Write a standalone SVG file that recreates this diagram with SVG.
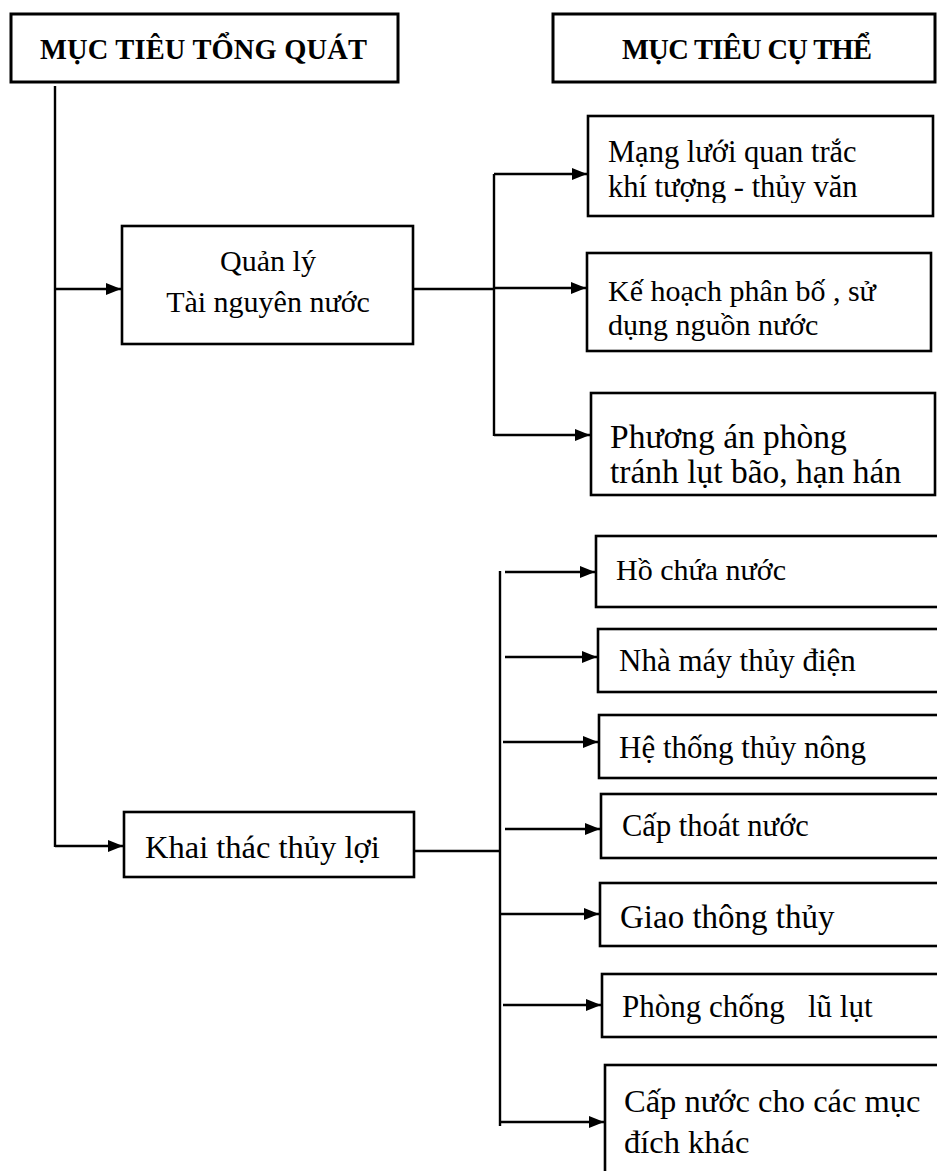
<svg xmlns="http://www.w3.org/2000/svg" width="937" height="1171" viewBox="0 0 937 1171">
<defs>
<style>
.box{fill:#fff;stroke:#000;stroke-width:2.6}
.hdr{fill:#fff;stroke:#000;stroke-width:3}
.t{font-family:"Liberation Serif","Times New Roman",serif;fill:#000}
.b{font-weight:bold;font-size:28.5px}
.ln{fill:none;stroke:#000;stroke-width:2.4}
</style>
<marker id="ah" markerUnits="userSpaceOnUse" markerWidth="16" markerHeight="14" viewBox="0 0 16 14" refX="15" refY="7" orient="auto">
<path d="M0,1 L15,7 L0,13 Z" fill="#000"/>
</marker>
<clipPath id="c1"><rect x="590" y="170" width="340" height="33"/></clipPath>
<clipPath id="c2"><rect x="590" y="310" width="340" height="31"/></clipPath>
</defs>

<g id="connectors">
<line class="ln" x1="55" y1="86" x2="55" y2="847"/>
<line class="ln" x1="55" y1="289" x2="121" y2="289" marker-end="url(#ah)"/>
<line class="ln" x1="55" y1="846" x2="123" y2="846" marker-end="url(#ah)"/>
<line class="ln" x1="413" y1="289" x2="494" y2="289"/>
<line class="ln" x1="494" y1="174" x2="494" y2="436"/>
<line class="ln" x1="494" y1="174" x2="587" y2="174" marker-end="url(#ah)"/>
<line class="ln" x1="494" y1="288" x2="586" y2="288" marker-end="url(#ah)"/>
<line class="ln" x1="494" y1="435" x2="590" y2="435" marker-end="url(#ah)"/>
<line class="ln" x1="414" y1="851" x2="500" y2="851"/>
<line class="ln" x1="500" y1="571" x2="500" y2="1126"/>
<line class="ln" x1="505" y1="572" x2="595" y2="572" marker-end="url(#ah)"/>
<line class="ln" x1="505" y1="657" x2="597" y2="657" marker-end="url(#ah)"/>
<line class="ln" x1="503" y1="742" x2="598" y2="742" marker-end="url(#ah)"/>
<line class="ln" x1="505" y1="829" x2="600" y2="829" marker-end="url(#ah)"/>
<line class="ln" x1="500" y1="914" x2="599" y2="914" marker-end="url(#ah)"/>
<line class="ln" x1="503" y1="1005" x2="601" y2="1005" marker-end="url(#ah)"/>
<line class="ln" x1="500" y1="1122" x2="604" y2="1122" marker-end="url(#ah)"/>
</g>

<g id="muc-tieu-tong-quat">
<rect class="hdr" x="11" y="14" width="387" height="68"/>
<text class="t b" x="40" y="59" textLength="327">MỤC TIÊU TỔNG QUÁT</text>
</g>
<g id="muc-tieu-cu-the">
<rect class="hdr" x="553" y="14" width="382" height="68"/>
<text class="t b" x="622" y="59" textLength="250">MỤC TIÊU CỤ THỂ</text>
</g>

<g id="quan-ly">
<rect class="box" x="122" y="226" width="291" height="118"/>
<text class="t" x="268" y="271" text-anchor="middle" font-size="30">Quản lý</text>
<text class="t" x="268" y="312" text-anchor="middle" font-size="30">Tài nguyên nước</text>
</g>

<g id="mang-luoi">
<rect class="box" x="588" y="116" width="345" height="100"/>
<text class="t" x="608" y="162" font-size="30.5">Mạng lưới quan trắc</text>
<text class="t" x="608" y="197" font-size="30.5" clip-path="url(#c1)">khí tượng - thủy văn</text>
</g>

<g id="ke-hoach">
<rect class="box" x="587" y="253" width="344" height="98"/>
<text class="t" x="608" y="301" font-size="30">Kế hoạch phân bố , sử</text>
<text class="t" x="608" y="335" font-size="30" clip-path="url(#c2)">dụng nguồn nước</text>
</g>

<g id="phuong-an">
<rect class="box" x="591" y="393" width="344" height="102"/>
<text class="t" x="610" y="448" font-size="33.5">Phương án phòng</text>
<text class="t" x="610" y="483" font-size="33.5">tránh lụt bão, hạn hán</text>
</g>

<g id="khai-thac">
<rect class="box" x="124" y="812" width="290" height="65"/>
<text class="t" x="145" y="858" font-size="32.5">Khai thác thủy lợi</text>
</g>

<g id="ho-chua">
<rect class="box" x="596" y="536" width="360" height="71"/>
<text class="t" x="616" y="580" font-size="30">Hồ chứa nước</text>
</g>

<g id="nha-may">
<rect class="box" x="598" y="629" width="360" height="63"/>
<text class="t" x="619" y="671" font-size="31">Nhà máy thủy điện</text>
</g>

<g id="he-thong">
<rect class="box" x="599" y="715" width="360" height="63"/>
<text class="t" x="619" y="758" font-size="31">Hệ thống thủy nông</text>
</g>

<g id="cap-thoat">
<rect class="box" x="601" y="794" width="360" height="64"/>
<text class="t" x="622" y="836" font-size="30.5">Cấp thoát nước</text>
</g>

<g id="giao-thong">
<rect class="box" x="600" y="883" width="360" height="63"/>
<text class="t" x="620" y="928" font-size="33">Giao thông thủy</text>
</g>

<g id="phong-chong">
<rect class="box" x="602" y="974" width="360" height="63"/>
<text class="t" x="622" y="1017" font-size="31" xml:space="preserve" style="white-space:pre">Phòng chống   lũ lụt</text>
</g>

<g id="cap-nuoc">
<rect class="box" x="605" y="1065" width="360" height="140"/>
<text class="t" x="624" y="1112" font-size="32.5">Cấp nước cho các mục</text>
<text class="t" x="624" y="1153" font-size="32.5">đích khác</text>
</g>
</svg>
